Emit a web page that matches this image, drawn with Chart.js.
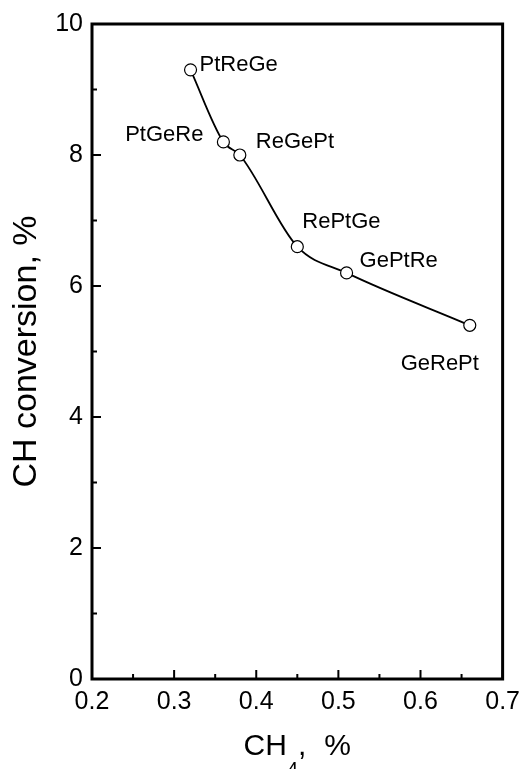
<!DOCTYPE html>
<html>
<head>
<meta charset="utf-8">
<script src="https://cdn.jsdelivr.net/npm/chart.js@4.4.0/dist/chart.umd.min.js"></script>
<style>
  html, body { margin: 0; padding: 0; background: #fff; }
</style>
</head>
<body>
<canvas id="graphique" width="528" height="769"></canvas>
<script>
// catalyst (order of metal loading)
var catalysts = ["PtReGe", "PtGeRe", "ReGePt", "RePtGe", "GePtRe", "GeRePt"];
// CH4 content, %
var ch4 = [0.32, 0.36, 0.38, 0.45, 0.51, 0.66];
// CH conversion, %
var conversion = [9.3, 8.2, 8.0, 6.6, 6.2, 5.4];
// axis ticks
var xTicks = [0.2, 0.3, 0.4, 0.5, 0.6, 0.7];
var yTicks = [0, 2, 4, 6, 8, 10];

var police = '"Liberation Sans", Arial, sans-serif';

// label placement around each point (dx, dy, align)
var placement = [
  [9, -5, "left"],
  [-20, -7, "right"],
  [16, -13, "left"],
  [5, -25, "left"],
  [13, -12, "left"],
  [-30, 39, "center"]
];

function minors(ticks) {
  var res = [];
  for (var i = 0; i < ticks.length - 1; i++) {
    res.push((ticks[i] + ticks[i + 1]) / 2);
  }
  return res;
}

var cadre = {
  id: "cadre",
  afterDraw: function (chart) {
    var ctx = chart.ctx;
    var a = chart.chartArea;
    var sx = chart.scales.x;
    var sy = chart.scales.y;
    ctx.save();
    ctx.strokeStyle = "#000";
    ctx.lineWidth = 3;
    ctx.strokeRect(a.left, a.top, a.right - a.left, a.bottom - a.top);

    // inward tick marks, bottom and left only
    ctx.lineWidth = 2;
    ctx.beginPath();
    xTicks.forEach(function (v) {
      var px = sx.getPixelForValue(v);
      ctx.moveTo(px, a.bottom); ctx.lineTo(px, a.bottom - 9);
    });
    minors(xTicks).forEach(function (v) {
      var px = sx.getPixelForValue(v);
      ctx.moveTo(px, a.bottom); ctx.lineTo(px, a.bottom - 5);
    });
    yTicks.forEach(function (v) {
      var py = sy.getPixelForValue(v);
      ctx.moveTo(a.left, py); ctx.lineTo(a.left + 9, py);
    });
    minors(yTicks).forEach(function (v) {
      var py = sy.getPixelForValue(v);
      ctx.moveTo(a.left, py); ctx.lineTo(a.left + 5, py);
    });
    ctx.stroke();

    // x title with subscript
    ctx.fillStyle = "#000";
    ctx.textBaseline = "alphabetic";
    ctx.textAlign = "left";
    var big = "30px " + police, small = "20px " + police;
    ctx.font = big;
    var w1 = ctx.measureText("CH").width;
    var w3 = ctx.measureText(",").width;
    var w4 = ctx.measureText("%").width;
    var gap = 18;
    ctx.font = small;
    var w2 = ctx.measureText("4").width;
    var x0 = (a.left + a.right) / 2 - (w1 + w2 + w3 + gap + w4) / 2;
    var base = 755;
    ctx.font = big;
    ctx.fillText("CH", x0, base);
    ctx.font = small;
    ctx.fillText("4", x0 + w1, base + 21);
    ctx.font = big;
    ctx.fillText(",", x0 + w1 + w2, base);
    ctx.fillText("%", x0 + w1 + w2 + w3 + gap, base);

    // point labels
    var meta = chart.getDatasetMeta(0);
    ctx.font = "22px " + police;
    ctx.textBaseline = "middle";
    meta.data.forEach(function (pt, i) {
      var p = placement[i];
      ctx.textAlign = p[2];
      ctx.fillText(catalysts[i], pt.x + p[0], pt.y + p[1]);
    });
    ctx.restore();
  }
};

new Chart(document.getElementById("graphique"), {
  type: "line",
  data: {
    datasets: [
      {
        data: ch4.map(function (v, i) { return { x: v, y: conversion[i] }; }),
        borderColor: "#000",
        borderWidth: 1.8,
        cubicInterpolationMode: "monotone",
        pointRadius: 6,
        pointBackgroundColor: "#fff",
        pointBorderColor: "#000",
        pointBorderWidth: 1.2,
        fill: false
      }
    ]
  },
  options: {
    responsive: false,
    animation: false,
    devicePixelRatio: 1,
    layout: { autoPadding: false, padding: { left: 0, top: 24, right: 16, bottom: 0 } },
    plugins: { legend: { display: false }, tooltip: { enabled: false } },
    scales: {
      x: {
        type: "linear",
        position: "bottom",
        min: xTicks[0],
        max: xTicks[xTicks.length - 1],
        afterBuildTicks: function (s) { s.ticks = xTicks.map(function (v) { return { value: v }; }); },
        afterFit: function (s) { s.height = 90; },
        grid: { display: false, drawTicks: false },
        border: { display: false },
        ticks: {
          autoSkip: false,
          maxRotation: 0,
          color: "#000",
          padding: 8,
          font: { family: police, size: 25 },
          callback: function (v) { return Number(v).toFixed(1); }
        }
      },
      y: {
        min: yTicks[0],
        max: yTicks[yTicks.length - 1],
        afterBuildTicks: function (s) { s.ticks = yTicks.map(function (v) { return { value: v }; }); },
        afterFit: function (s) { s.width = 92; },
        grid: { display: false, drawTicks: false },
        border: { display: false },
        ticks: {
          color: "#000",
          padding: 9,
          font: { family: police, size: 25 },
          callback: function (v) { return String(v); }
        },
        title: {
          display: true,
          text: "CH conversion, %",
          color: "#000",
          font: { family: police, size: 34 },
          padding: { top: 6, bottom: 0 }
        }
      }
    }
  },
  plugins: [cadre]
});
</script>
</body>
</html>
